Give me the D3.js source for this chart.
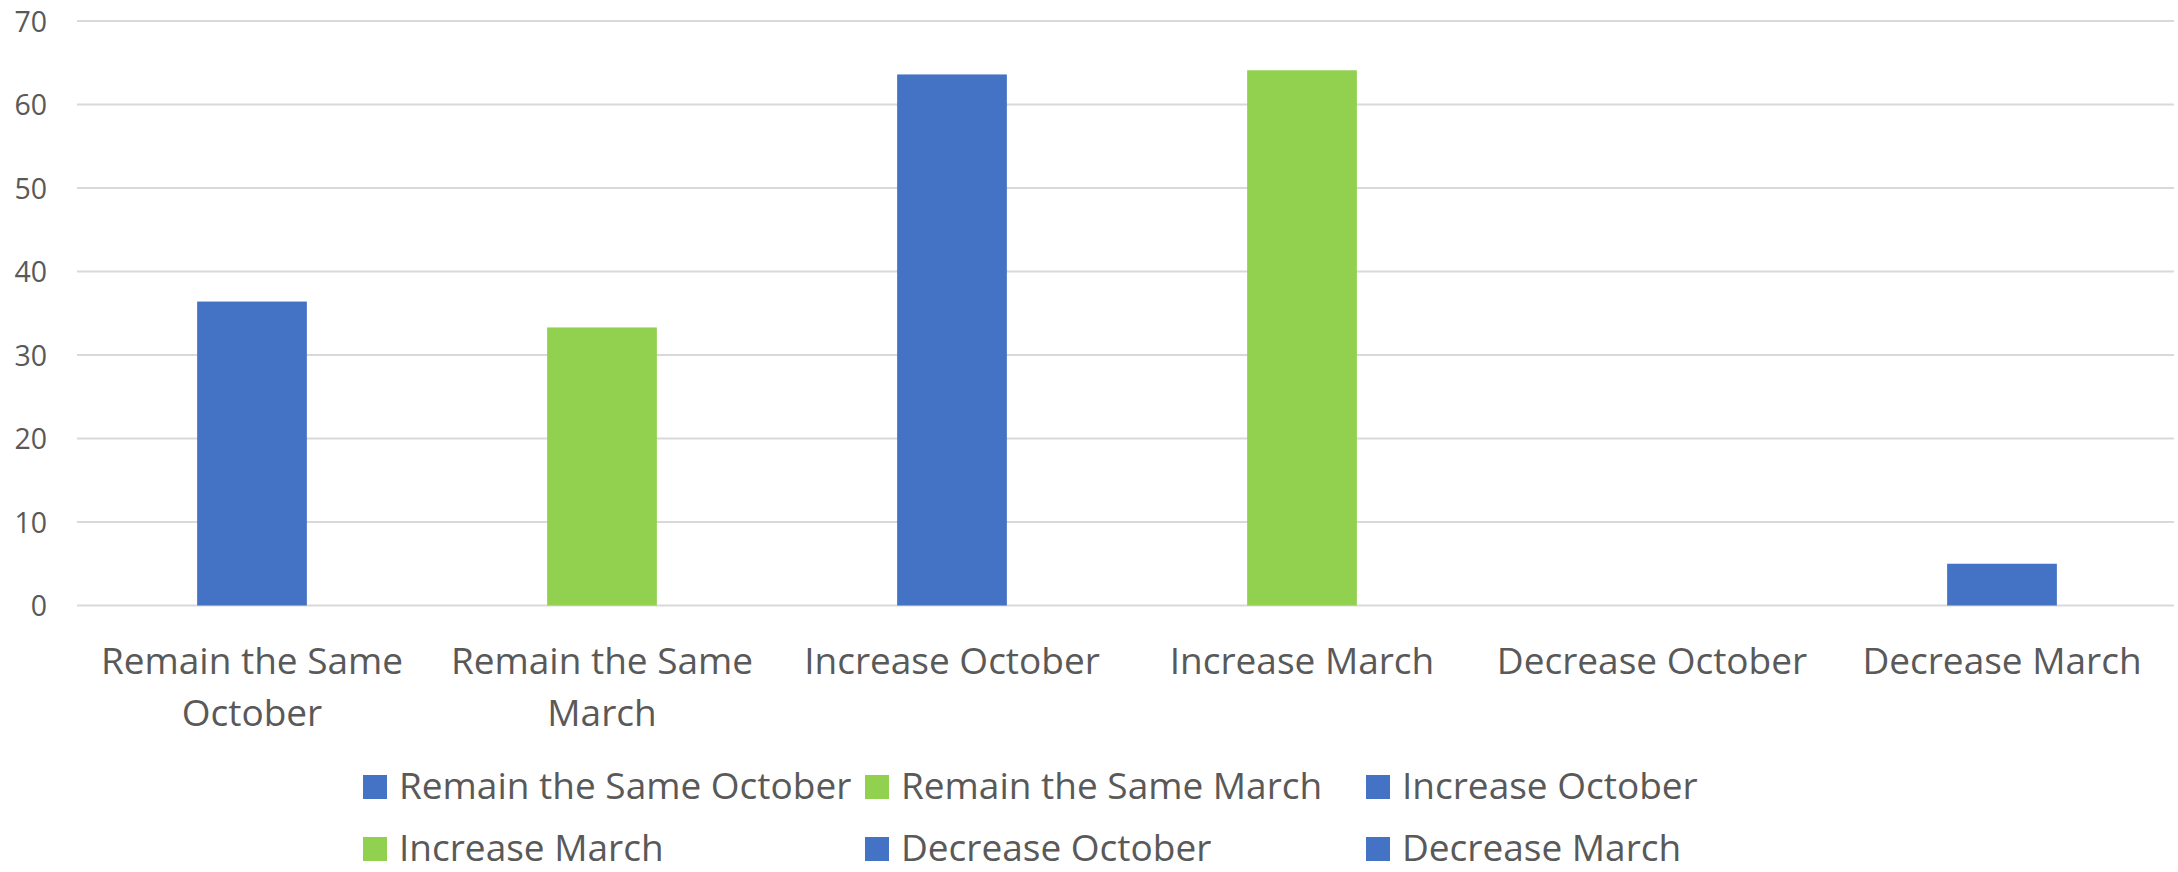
<!DOCTYPE html>
<html>
<head>
<meta charset="utf-8">
<script src="https://cdn.jsdelivr.net/npm/d3@7/dist/d3.min.js"></script>
<style>
  html, body { margin: 0; padding: 0; background: #ffffff; }
  svg { display: block; }
  text { font-family: "Open Sans", sans-serif; fill: #595959; }
</style>
</head>
<body>
<svg id="chart" width="2178" height="872"></svg>
<script>
// ---- data ----
const categories = ["Remain the Same October", "Remain the Same March", "Increase October", "Increase March", "Decrease October", "Decrease March"];
const categoryLines = [["Remain the Same", "October"], ["Remain the Same", "March"], ["Increase October"], ["Increase March"], ["Decrease October"], ["Decrease March"]];
const values = [36.4, 33.3, 63.6, 64.1, 0, 5.0];
const seriesColors = ["#4472C4", "#92D050", "#4472C4", "#92D050", "#4472C4", "#4472C4"];
const yTicks = [0, 10, 20, 30, 40, 50, 60, 70];

// ---- layout ----
const svg = d3.select("#chart");
const plot = { left: 77, right: 2177, top: 21, bottom: 605.5 };

const x = d3.scaleBand().domain(categories).range([plot.left, plot.right]).padding(0);
const y = d3.scaleLinear().domain([0, 70]).range([plot.bottom, plot.top]);
const barW = x.bandwidth() * 0.3135;

// gridlines
svg.append("g")
  .selectAll("line")
  .data(yTicks)
  .join("line")
  .attr("x1", plot.left)
  .attr("x2", plot.right - 3)
  .attr("y1", d => y(d))
  .attr("y2", d => y(d))
  .attr("stroke", "#d9d9d9")
  .attr("stroke-width", 2);

// y axis labels
const yAxis = d3.axisLeft(y).tickValues(yTicks).tickSize(0).tickPadding(0);
const yg = svg.append("g").attr("transform", `translate(47,0)`).call(yAxis);
yg.select(".domain").remove();
yg.selectAll("text")
  .attr("font-size", 28.5)
  .attr("font-family", "Open Sans, sans-serif")
  .attr("fill", "#595959")
  .attr("dy", "0.36em");

// bars
svg.append("g")
  .selectAll("rect")
  .data(categories)
  .join("rect")
  .attr("x", d => x(d) + (x.bandwidth() - barW) / 2)
  .attr("width", barW)
  .attr("y", (d, i) => y(values[i]))
  .attr("height", (d, i) => y(0) - y(values[i]))
  .attr("fill", (d, i) => seriesColors[i]);

// x axis labels
const xl = svg.append("g");
categories.forEach((c, i) => {
  const t = xl.append("text")
    .attr("x", x(c) + x.bandwidth() / 2)
    .attr("y", 674)
    .attr("text-anchor", "middle")
    .attr("font-size", 37);
  categoryLines[i].forEach((ln, j) => {
    t.append("tspan")
      .attr("x", x(c) + x.bandwidth() / 2)
      .attr("dy", j === 0 ? 0 : 51.5)
      .text(ln);
  });
});

// legend
const legendCols = [363, 865, 1366];
const legendRows = [799, 861];
const lg = svg.append("g");
categories.forEach((c, i) => {
  const col = i % 3, row = Math.floor(i / 3);
  const gx = legendCols[col], gy = legendRows[row];
  lg.append("rect")
    .attr("x", gx)
    .attr("y", gy - 24)
    .attr("width", 24)
    .attr("height", 24)
    .attr("fill", seriesColors[i]);
  lg.append("text")
    .attr("x", gx + 36)
    .attr("y", gy)
    .attr("font-size", 37)
    .text(c);
});
</script>
</body>
</html>
